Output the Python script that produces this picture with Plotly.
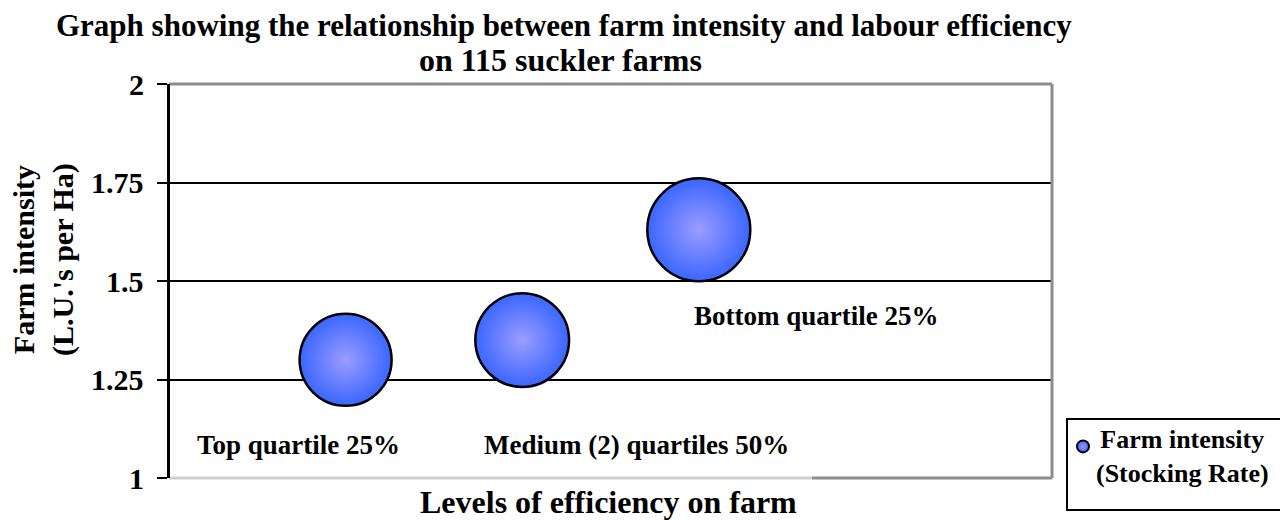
import plotly.graph_objects as go

# ---- data ----
categories = ["Top quartile 25%", "Medium (2) quartiles 50%", "Bottom quartile 25%"]
x_positions = [1, 2, 3]
farm_intensity = [1.30, 1.35, 1.63]
bubble_size = [1.30, 1.35, 1.63]
y_ticks = [1, 1.25, 1.5, 1.75, 2]
y_tick_labels = ["1", "1.25", "1.5", "1.75", "2"]
series_name = "Farm intensity<br>(Stocking Rate)"

OFF = 8  # page body margin
W, H = 1288 - OFF, 520 - OFF
# plot area in screen pixels
SL, SR, ST, SB = 169, 1052, 84, 478
L, R, T, B = SL - OFF, SR - OFF, ST - OFF, SB - OFF
FONT = "Liberation Serif"


def px(x):
    return (x - SL) / (SR - SL)


def py(y):
    return (SB - y) / (SB - ST)


fig = go.Figure()
fig.add_trace(go.Scatter(
    x=x_positions, y=farm_intensity, mode="markers",
    name=" ",
    marker=dict(size=bubble_size, sizemode="area", sizeref=2 * 1.3 / (92 ** 2),
                color="#3a66ff", opacity=1,
                gradient=dict(type="radial", color="#9c9cff"),
                line=dict(color="black", width=2.5)),
    hoverinfo="skip", cliponaxis=False,
))

fig.update_layout(
    width=W, height=H,
    margin=dict(l=L, r=W - R, t=T, b=H - B),
    paper_bgcolor="white", plot_bgcolor="white",
    font=dict(family=FONT, color="black"),
    showlegend=True,
    legend=dict(x=px(1063), y=py(423), xanchor="left", yanchor="top",
                bgcolor="rgba(0,0,0,0)", borderwidth=0, itemsizing="constant",
                valign="middle",
                font=dict(family=FONT, size=26, color="black"),
                itemwidth=30, tracegroupgap=0),
    xaxis=dict(range=[0, 5], showgrid=False, zeroline=False, showticklabels=False,
               ticks="", showline=False),
    yaxis=dict(range=[1, 2], tickvals=y_ticks, showticklabels=False,
               showgrid=True, gridcolor="black", gridwidth=2, zeroline=False,
               showline=True, linecolor="black", linewidth=2,
               ticks="outside", ticklen=10, tickwidth=2, tickcolor="black"),
)

shapes = [
    dict(type="line", xref="paper", yref="paper", x0=0, x1=1, y0=1, y1=1,
         line=dict(color="#8c8c8c", width=3), layer="above"),
    dict(type="line", xref="paper", yref="paper", x0=1, x1=1, y0=0, y1=1,
         line=dict(color="#8c8c8c", width=3), layer="above"),
    dict(type="line", xref="paper", yref="paper", x0=0, x1=px(812), y0=0, y1=0,
         line=dict(color="#cfcfcf", width=3), layer="above"),
    dict(type="line", xref="paper", yref="paper", x0=px(812), x1=1, y0=0, y1=0,
         line=dict(color="#8c8c8c", width=3), layer="above"),
    dict(type="rect", xref="paper", yref="paper", x0=px(1067), x1=px(1282),
         y0=py(510), y1=py(419), line=dict(color="black", width=2),
         fillcolor="rgba(0,0,0,0)", layer="above"),
    dict(type="line", xref="paper", yref="paper", x0=0, x1=0, y0=0, y1=1,
         line=dict(color="black", width=2), layer="above"),
]
fig.update_layout(shapes=shapes)

ann = []
# bold y tick labels
for tv, tl in zip(y_ticks, y_tick_labels):
    ann.append(dict(text="<b>%s</b>" % tl, xref="paper", yref="y",
                    x=px(146), y=tv, showarrow=False,
                    font=dict(family=FONT, size=30, color="black"),
                    xanchor="right", yanchor="middle"))

label_pos = [(298, 445), (636, 445), (816, 316)]
for txt, (lx, ly) in zip(categories, label_pos):
    ann.append(dict(text="<b>%s</b>" % txt, xref="paper", yref="paper",
                    x=px(lx), y=py(ly), showarrow=False,
                    font=dict(family=FONT, size=27, color="black"),
                    xanchor="center", yanchor="middle"))

# legend text (centred, as in the reference)
ann.append(dict(text="<b>%s</b>" % series_name, xref="paper", yref="paper",
                x=px(1182), y=py(456), showarrow=False, align="center",
                font=dict(family=FONT, size=26, color="black"),
                xanchor="center", yanchor="middle"))

ann.append(dict(text="<b>Graph showing the relationship between farm intensity and labour efficiency</b>",
                xref="paper", yref="paper", x=px(564), y=py(25), showarrow=False,
                font=dict(family=FONT, size=31), xanchor="center", yanchor="middle"))
ann.append(dict(text="<b>on 115 suckler farms</b>",
                xref="paper", yref="paper", x=px(560), y=py(60), showarrow=False,
                font=dict(family=FONT, size=32), xanchor="center", yanchor="middle"))
ann.append(dict(text="<b>Levels of efficiency on farm</b>",
                xref="paper", yref="paper", x=px(608), y=py(502), showarrow=False,
                font=dict(family=FONT, size=32), xanchor="center", yanchor="middle"))
ann.append(dict(text="<b>Farm intensity<br>(L.U.'s per Ha)</b>",
                xref="paper", yref="paper", x=px(43), y=py(260), showarrow=False,
                textangle=-90,
                font=dict(family=FONT, size=30), xanchor="center", yanchor="middle"))
fig.update_layout(annotations=ann)

fig.write_html("out.html")
